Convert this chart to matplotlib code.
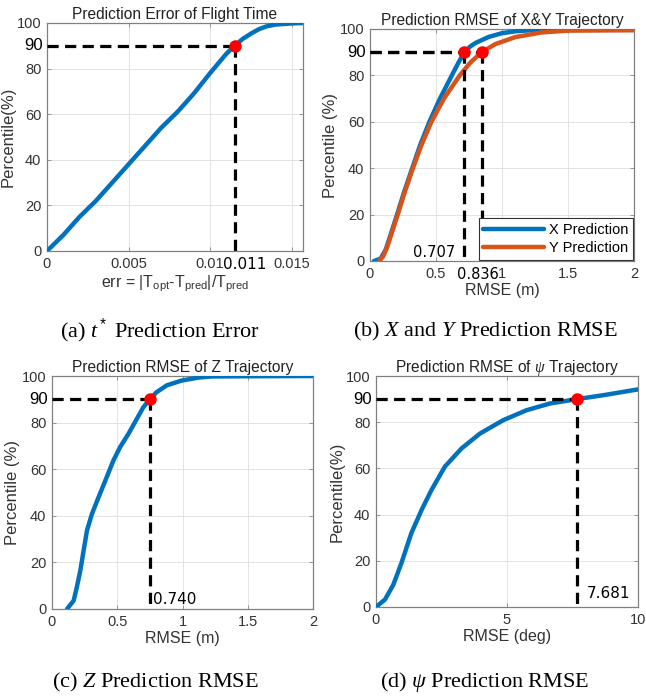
import matplotlib
matplotlib.use("Agg")
import matplotlib.pyplot as plt

plt.rcParams['font.family'] = ['Liberation Sans', 'DejaVu Sans']
plt.rcParams['mathtext.fontset'] = 'custom'
plt.rcParams['mathtext.rm'] = 'Liberation Sans'
plt.rcParams['mathtext.it'] = 'Liberation Serif:italic'
plt.rcParams['mathtext.bf'] = 'Liberation Serif:bold'

BLUE = '#0072BD'
ORANGE = '#D95319'

# (a) flight time error CDF
t_err = [0, 0.001, 0.002, 0.003, 0.004, 0.005, 0.006, 0.007, 0.008, 0.009, 0.010,
         0.011, 0.0115, 0.012, 0.0125, 0.013, 0.0135, 0.014, 0.015, 0.0157]
t_pct = [0, 7, 15, 22, 30, 38, 46, 54, 61, 69, 78, 86.5, 90, 93, 95.3, 97.3, 98.6, 99.3, 99.8, 100]
t_90 = 0.0115

# (b) X and Y RMSE CDF
x_rmse = [0.03, 0.08, 0.12, 0.16, 0.205, 0.26, 0.32, 0.38, 0.45, 0.53, 0.62, 0.67, 0.715,
          0.76, 0.80, 0.90, 1.0, 1.1, 1.2, 1.5, 2.0]
x_pct = [0, 1, 5, 12, 20, 30, 40, 50, 60, 70, 80, 85.5, 90, 92.5, 94, 96.6, 98.2, 99.0, 99.4, 99.6, 99.6]
y_rmse = [0.07, 0.10, 0.13, 0.17, 0.21, 0.265, 0.325, 0.39, 0.465, 0.56, 0.68, 0.76, 0.845,
          0.95, 1.1, 1.3, 1.5, 2.0]
y_pct = [0, 2, 6, 13, 20, 30, 40, 50, 60, 70, 80, 85.5, 90, 93.5, 96.5, 98.5, 99.3, 99.5]
x_90, y_90 = 0.715, 0.845

# (c) Z RMSE CDF
z_rmse = [0.115, 0.166, 0.19, 0.217, 0.242, 0.268, 0.306, 0.357, 0.408, 0.471, 0.522, 0.586,
          0.65, 0.70, 0.75, 0.80, 0.88, 0.99, 1.12, 1.22, 1.5, 2.0]
z_pct = [0, 3.6, 9.3, 16.5, 25, 33.7, 40.8, 48, 55, 63.8, 69.5, 75.2,
         81.6, 86.6, 90, 93, 96, 98, 99.3, 99.8, 99.9, 100]
z_90 = 0.75

# (d) psi RMSE CDF
psi_rmse = [0, 0.34, 0.66, 0.97, 1.35, 1.74, 2.12, 2.63, 3.27, 3.97, 4.86, 5.75, 6.64,
            7.68, 8.68, 10]
psi_pct = [0, 3.2, 9.6, 19, 32, 42, 50.7, 60.8, 68.7, 75.1, 80.9, 85.2, 88.1,
           90, 91.7, 94.2]
psi_90 = 7.68

W, H = 646, 698
fig = plt.figure(figsize=(W / 100, H / 100), dpi=100)


def box(l, t, r, b):
    return [l / W, (H - b) / H, (r - l) / W, (b - t) / H]


def style(ax, xlim, xticks, xticklabels, title, xlabel, ylabel):
    ax.set_xlim(xlim)
    ax.set_ylim(0, 100)
    ax.set_xticks(xticks)
    ax.set_xticklabels(xticklabels)
    ax.set_yticks([0, 20, 40, 60, 80, 100])
    ax.grid(True, color='#E3E3E3', lw=0.7)
    ax.set_axisbelow(True)
    ax.tick_params(direction='in', length=3, width=0.6, colors='#888888',
                   labelcolor='#333333', labelsize=10.5, top=True, right=True, pad=4)
    for s in ax.spines.values():
        s.set_color('#808080')
        s.set_linewidth(0.9)
    ax.set_title(title, fontsize=11.2, color='#222222', pad=3)
    ax.set_xlabel(xlabel, fontsize=11.5, color='#333333', labelpad=2)
    ax.set_ylabel(ylabel, fontsize=12, color='#333333', labelpad=1)
    ax.text(-0.016, 90, '90', transform=ax.get_yaxis_transform(), ha='right', va='center',
            fontsize=12, color='black')


def curve(ax, xs, ys, color, label=None):
    ax.plot(xs, ys, color=color, lw=3.2, zorder=3, label=label,
            solid_joinstyle='round', solid_capstyle='round')


def mark90(ax, xv):
    ax.plot([ax.get_xlim()[0], xv], [90, 90], color='black', lw=2.3, ls=(0, (3.5, 2)), zorder=4,
            clip_on=False)
    ax.plot([xv, xv], [90, 0], color='black', lw=2.3, ls=(0, (3.5, 2)), zorder=4, clip_on=False)
    ax.plot([xv], [90], 'o', color='red', ms=8, zorder=6)


# (a)
ax = fig.add_axes(box(47, 23, 303, 251))
curve(ax, t_err, t_pct, BLUE)
style(ax, (0, 0.0157), [0, 0.005, 0.01, 0.015], ['0', '0.005', '0.01', '0.015'],
      'Prediction Error of Flight Time',
      r'err = |T$_{\mathrm{opt}}$-T$_{\mathrm{pred}}$|/T$_{\mathrm{pred}}$', 'Percentile(%)')
mark90(ax, t_90)
ax.text(0.01215, -2.5, '0.011', ha='center', va='top', fontsize=11, color='black',
        family='DejaVu Sans')

# (b)
ax = fig.add_axes(box(370, 29, 634, 261))
curve(ax, x_rmse, x_pct, BLUE, 'X Prediction')
curve(ax, y_rmse, y_pct, ORANGE, 'Y Prediction')
style(ax, (0, 2), [0, 0.5, 1, 1.5, 2], ['0', '0.5', '1', '1.5', '2'],
      'Prediction RMSE of X&Y Trajectory', 'RMSE (m)', 'Percentile (%)')
mark90(ax, x_90)
mark90(ax, y_90)
ax.text(0.645, 3.5, '0.707', ha='right', va='center', fontsize=10.5, color='black',
        family='DejaVu Sans')
ax.text(0.82, -2.5, '0.836', ha='center', va='top', fontsize=10.5, color='black',
        family='DejaVu Sans')
leg = ax.legend(loc='lower right', fontsize=10.5, handlelength=4.2, handletextpad=0.3,
                borderaxespad=0.1, fancybox=False, framealpha=1, edgecolor='#333333',
                labelspacing=0.3, borderpad=0.3)
leg.get_frame().set_linewidth(0.8)
leg.set_zorder(7)

# (c)
ax = fig.add_axes(box(52, 376, 313, 609))
curve(ax, z_rmse, z_pct, BLUE)
style(ax, (0, 2), [0, 0.5, 1, 1.5, 2], ['0', '0.5', '1', '1.5', '2'],
      'Prediction RMSE of Z Trajectory', 'RMSE (m)', 'Percentile (%)')
mark90(ax, z_90)
ax.text(0.777, 3.9, '0.740', ha='left', va='center', fontsize=11, color='black',
        family='DejaVu Sans')

# (d)
ax = fig.add_axes(box(376, 376, 638, 607))
curve(ax, psi_rmse, psi_pct, BLUE)
style(ax, (0, 10), [0, 5, 10], ['0', '5', '10'],
      r'Prediction RMSE of $\psi$ Trajectory', 'RMSE (deg)', 'Percentile(%)')
mark90(ax, psi_90)
ax.text(8.03, 5.7, '7.681', ha='left', va='center', fontsize=11, color='black',
        family='DejaVu Sans')

# captions
cap = dict(ha='center', va='center', fontsize=16, family='Liberation Serif', color='black')
fig.text(160 / W, 1 - 331 / H, r'(a) $t^*$ Prediction Error', **cap)
fig.text(485 / W, 1 - 331 / H, r'(b) $X$ and $Y$ Prediction RMSE', **cap)
fig.text(155 / W, 1 - 682 / H, r'(c) $Z$ Prediction RMSE', **cap)
fig.text(485 / W, 1 - 682 / H, r'(d) $\psi$ Prediction RMSE', **cap)

fig.savefig('out.png', dpi=100, facecolor='white')
